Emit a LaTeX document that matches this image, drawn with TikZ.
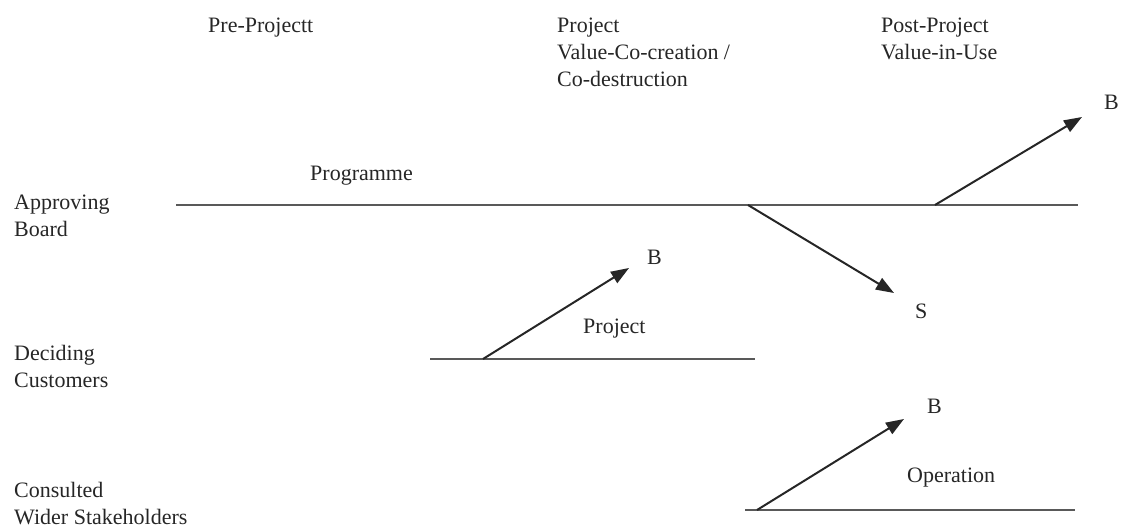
\documentclass[tikz,border=0pt]{standalone}
\usepackage{fontspec}
\setmainfont{Liberation Serif}
\usetikzlibrary{arrows.meta}

\tikzset{
  lbl/.style={anchor=base west, inner sep=0pt, text=black!85,
              font=\fontsize{22}{27}\selectfont},
  phase/.style={lbl},
  track/.style={line width=1.5pt, draw=black!65},
  flow/.style={line width=2pt, draw=black!85,
               -{Triangle[length=18pt,width=13pt]}},
}
\newcommand{\lines}[1]{\begin{tabular}[t]{@{}l@{}}#1\end{tabular}}

\begin{document}
\begin{tikzpicture}[x=1pt,y=-1pt]
  \useasboundingbox (0,0) rectangle (1122,527);

  % phase headings
  \node[phase] (pre)  at (208,33) {Pre-Projectt};
  \node[phase] (proj) at (557,33) {\lines{Project\\Value-Co-creation /\\Co-destruction}};
  \node[phase] (post) at (881,33) {\lines{Post-Project\\Value-in-Use}};

  % actor rows
  \node[lbl] (board) at (14,209) {\lines{Approving\\Board}};
  \node[lbl] (cust)  at (14,360) {\lines{Deciding\\Customers}};
  \node[lbl] (stake) at (14,497) {\lines{Consulted\\Wider Stakeholders}};

  % activity labels
  \node[lbl] (prog) at (310,180) {Programme};
  \node[lbl] (pjl)  at (583,333) {Project};
  \node[lbl] (oper) at (907,482) {Operation};

  % outcome labels
  \node[lbl] (b1) at (1104,110) {B};
  \node[lbl] (s1) at (915,318)  {S};
  \node[lbl] (b2) at (647,264)  {B};
  \node[lbl] (b3) at (927,413)  {B};

  % timeline tracks
  \coordinate (progL) at (176,205);
  \coordinate (progR) at (1078,205);
  \coordinate (pjL)   at (430,359);
  \coordinate (pjR)   at (755,359);
  \coordinate (opL)   at (745,510);
  \coordinate (opR)   at (1075,510);
  \draw[track] (progL) -- (progR);
  \draw[track] (pjL) -- (pjR);
  \draw[track] (opL) -- (opR);

  % value arrows
  \coordinate (a1s) at (935,205);  \coordinate (a1e) at (1082,117);
  \coordinate (a2s) at (748,205);  \coordinate (a2e) at (894,293);
  \coordinate (a3s) at (483,359);  \coordinate (a3e) at (629,268);
  \coordinate (a4s) at (757,510);  \coordinate (a4e) at (904,419);
  \draw[flow] (a1s) -- (a1e);
  \draw[flow] (a2s) -- (a2e);
  \draw[flow] (a3s) -- (a3e);
  \draw[flow] (a4s) -- (a4e);
\end{tikzpicture}
\end{document}
